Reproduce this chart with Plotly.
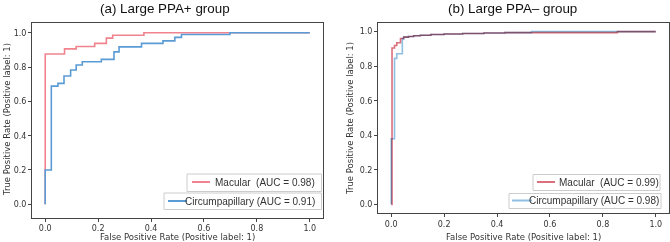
import plotly.graph_objects as go

# ---------------- data ----------------
tick_vals = [0.0, 0.2, 0.4, 0.6, 0.8, 1.0]
tick_text = ["0.0", "0.2", "0.4", "0.6", "0.8", "1.0"]

panel_titles = ["(a) Large PPA+ group", "(b) Large PPA\u2013 group"]
series_names = ["Macular", "Circumpapillary"]
auc_a = [0.98, 0.91]
auc_b = [0.99, 0.98]

# (a) Large PPA+ group  -- step points (fpr, tpr)
a_mac_fpr = [0.0, 0.0, 0.073, 0.117, 0.187, 0.231, 0.255, 0.373, 1.0]
a_mac_tpr = [0.0, 0.876, 0.906, 0.920, 0.938, 0.969, 0.986, 1.0, 1.0]

a_cir_fpr = [0.0, 0.0, 0.023, 0.048, 0.071, 0.096, 0.117, 0.140, 0.212, 0.260,
             0.279, 0.364, 0.445, 0.490, 0.515, 0.698, 1.0]
a_cir_tpr = [0.0, 0.200, 0.689, 0.705, 0.748, 0.783, 0.812, 0.831, 0.845, 0.889,
             0.918, 0.938, 0.953, 0.973, 0.990, 1.0, 1.0]

# (b) Large PPA- group
b_mac_fpr = [0.0, 0.003, 0.0125, 0.021, 0.035, 0.047, 0.065, 0.085, 0.11, 0.15,
             0.20, 0.27, 0.35, 0.43, 0.855, 1.0]
b_mac_tpr = [0.0, 0.905, 0.920, 0.936, 0.960, 0.968, 0.972, 0.976, 0.979, 0.983,
             0.986, 0.989, 0.992, 0.994, 1.0, 1.0]

b_cir_fpr = [0.0, 0.0, 0.0125, 0.021, 0.042, 0.047, 0.065, 0.085, 0.11, 0.15,
             0.20, 0.27, 0.35, 0.43, 0.53, 1.0]
b_cir_tpr = [0.0, 0.38, 0.845, 0.872, 0.958, 0.968, 0.972, 0.976, 0.979, 0.983,
             0.986, 0.989, 0.992, 0.994, 1.0, 1.0]

# ---------------- style ----------------
W, H = 670, 242
RED_A, BLUE_A = "#f0838e", "#5b9bd5"
RED_B, BLUE_B = "#dc6f7c", "#8fbfe2"
AX_COL = "#444444"
TXT_COL = "#333333"
AX_FONT = "DejaVu Sans"
LEG_FONT = "Liberation Sans, Arial, sans-serif"

def px(x):
    return x / W

def py(y):
    return 1 - y / H

fig = go.Figure()

fig.add_trace(go.Scatter(x=a_mac_fpr, y=a_mac_tpr, mode="lines", line_shape="hv",
                         line=dict(color=RED_A, width=1.6), xaxis="x", yaxis="y",
                         showlegend=False))
fig.add_trace(go.Scatter(x=a_cir_fpr, y=a_cir_tpr, mode="lines", line_shape="hv",
                         line=dict(color=BLUE_A, width=1.6), xaxis="x", yaxis="y",
                         showlegend=False))
fig.add_trace(go.Scatter(x=b_cir_fpr, y=b_cir_tpr, mode="lines", line_shape="hv",
                         line=dict(color=BLUE_B, width=1.6), xaxis="x2", yaxis="y2",
                         showlegend=False))
fig.add_trace(go.Scatter(x=b_mac_fpr, y=b_mac_tpr, mode="lines", line_shape="hv",
                         line=dict(color=RED_B, width=1.6), xaxis="x2", yaxis="y2",
                         showlegend=False))

axis_common = dict(
    showgrid=False, zeroline=False, showline=True, mirror=True,
    linecolor=AX_COL, linewidth=1, ticks="outside", ticklen=3, tickwidth=1,
    tickcolor=AX_COL, tickvals=tick_vals, ticktext=tick_text,
    tickfont=dict(family=AX_FONT, size=8, color=TXT_COL),
)

fig.update_layout(
    width=W, height=H, margin=dict(l=0, r=0, t=0, b=0),
    plot_bgcolor="white", paper_bgcolor="white",
    xaxis=dict(domain=[px(32), px(323)], range=[-0.05, 1.05], anchor="y", **axis_common),
    yaxis=dict(domain=[py(217.5), py(22.5)], range=[-0.077, 1.06], anchor="x", **axis_common),
    xaxis2=dict(domain=[px(378), px(669)], range=[-0.05, 1.05], anchor="y2", **axis_common),
    yaxis2=dict(domain=[py(213), py(23)], range=[-0.05, 1.05], anchor="x2", **axis_common),
)

ann = []
shapes = []
# titles
for cx, t in zip([164.5, 512], panel_titles):
    ann.append(dict(x=px(cx), y=py(9), xref="paper", yref="paper", text=t, showarrow=False,
                    xanchor="center", yanchor="middle",
                    font=dict(family=LEG_FONT, size=13.4, color="#111111")))
# axis titles
for cx in [177.5, 523]:
    ann.append(dict(x=px(cx), y=py(237.3), xref="paper", yref="paper",
                    text="False Positive Rate (Positive label: 1)", showarrow=False,
                    xanchor="center", yanchor="middle",
                    font=dict(family=AX_FONT, size=8.5, color=TXT_COL)))
for cx, cy in [(7, 120), (350, 118)]:
    ann.append(dict(x=px(cx), y=py(cy), xref="paper", yref="paper",
                    text="True Positive Rate (Positive label: 1)", showarrow=False,
                    textangle=-90, xanchor="center", yanchor="middle",
                    font=dict(family=AX_FONT, size=8.5, color=TXT_COL)))

# legends (boxes, sample lines, labels)
legend_specs = [
    (187, 321.5, 174, 191.5, 192, 210, 182, 317, series_names[0], auc_a[0], RED_A, "\u00a0\u00a0"),
    (164, 321.5, 193, 209.5, 168, 187, 201, 317, series_names[1], auc_a[1], BLUE_A, " "),
    (533, 660, 174.5, 190.5, 537, 555, 182, 661, series_names[0], auc_b[0], RED_B, "\u00a0\u00a0"),
    (509, 661, 193.5, 208.5, 512, 532, 200.5, 661, series_names[1], auc_b[1], BLUE_B, " "),
]
for bx0, bx1, by0, by1, lx0, lx1, ly, tr, name, auc, col, sp in legend_specs:
    shapes.append(dict(type="rect", xref="paper", yref="paper",
                       x0=px(bx0), x1=px(bx1), y0=py(by1), y1=py(by0),
                       line=dict(color="#cccccc", width=1), fillcolor="white", layer="above"))
    shapes.append(dict(type="line", xref="paper", yref="paper",
                       x0=px(lx0), x1=px(lx1), y0=py(ly), y1=py(ly),
                       line=dict(color=col, width=2), layer="above"))
    ann.append(dict(x=px(tr), y=py(ly), xref="paper", yref="paper",
                    text=f"{name}{sp}(AUC = {auc:.2f})", showarrow=False,
                    xanchor="right", yanchor="middle",
                    font=dict(family=LEG_FONT, size=10, color=TXT_COL)))

fig.update_layout(annotations=ann, shapes=shapes)

post = """
document.documentElement.style.margin = '0';
document.body.style.margin = '0';
document.body.style.padding = '0';
var gd = document.querySelector('.js-plotly-plot');
function blend(){
  var lines = gd.querySelectorAll('.subplot.x2y2 .scatterlayer path.js-line');
  lines.forEach(function(p){ p.style.mixBlendMode = 'multiply'; });
}
blend();
gd.on('plotly_afterplot', blend);
"""
fig.write_html("out.html", post_script=post, config={"displayModeBar": False})
